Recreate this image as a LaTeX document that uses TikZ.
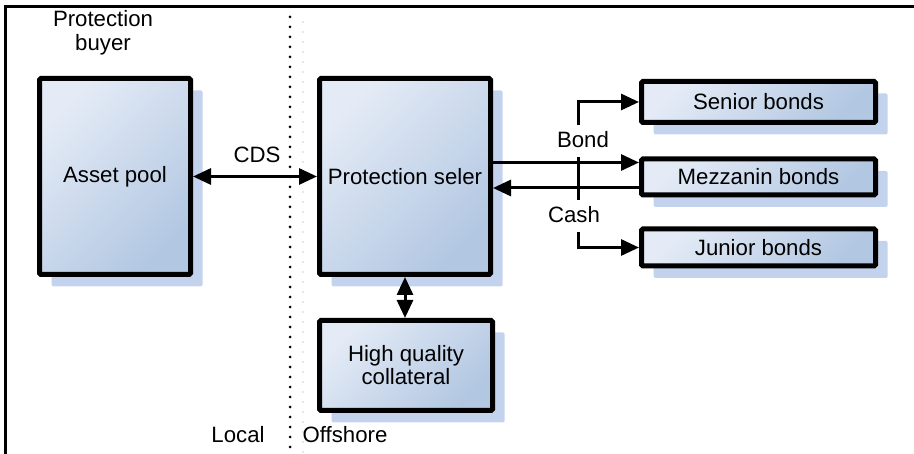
\documentclass[tikz,border=0pt]{standalone}
\usepackage{fontspec}
\setmainfont{Liberation Sans}
\usetikzlibrary{arrows.meta,shadows}
\definecolor{boxlight}{RGB}{228,235,246}
\definecolor{boxdark}{RGB}{178,199,226}
\definecolor{shadowc}{RGB}{196,211,237}
\tikzset{
  box/.style={draw=black, line width=5pt, rounded corners=1.5pt, inner sep=0pt,
    left color=boxlight, right color=boxdark, shading angle=45,
    general shadow={shadow xshift=12pt, shadow yshift=-12pt, fill=shadowc},
    align=center, font=\fontsize{22.2}{23}\selectfont},
  lbl/.style={inner sep=0pt, align=center, font=\fontsize{22.2}{24}\selectfont},
  conn/.style={line width=3pt},
  arr/.style={conn, -{Triangle[length=18pt,width=16pt]}},
  dbl/.style={conn, {Triangle[length=18pt,width=16pt]}-{Triangle[length=18pt,width=16pt]}}
}
\begin{document}
\begin{tikzpicture}[x=1pt,y=-1pt]
\useasboundingbox (0,0) rectangle (914,454);
% frame
\draw[line width=3pt] (5.5,470) -- (5.5,7) -- (930,7);
% divider
\draw[line width=3pt, line cap=round, dash pattern=on 0pt off 10pt] (290,17) -- (290,454);
\draw[line width=1.8pt, line cap=round, dash pattern=on 0pt off 10pt, shadowc] (303,22) -- (303,454);
% boxes
\node[box, minimum width=151pt, minimum height=196pt] (asset) at (115,176.5) {Asset pool};
\node[box, minimum width=171pt, minimum height=196pt] (seller) at (405,176.5) {Protection seler};
\node[box, minimum width=234pt, minimum height=41pt] (senior) at (758.5,102) {Senior bonds};
\node[box, minimum width=234pt, minimum height=36pt] (mezz) at (758.5,177) {Mezzanin bonds};
\node[box, minimum width=234pt, minimum height=37pt] (junior) at (758.5,247.5) {Junior bonds};
\node[box, minimum width=173pt, minimum height=90pt] (coll) at (406,365.5) {High quality\\collateral};
% labels
\node[lbl] (buyer) at (103,33) {Protection\\buyer};
\node[lbl] (cds) at (257,155) {CDS};
\node[lbl] (bond) at (583,140) {Bond};
\node[lbl] (cash) at (574,215) {Cash};
\node[lbl] (local) at (238,435) {Local};
\node[lbl] (off) at (345,435) {Offshore};
% connectors
\draw[dbl] (asset.east) -- (seller.west);
\draw[dbl] (seller.south) -- (seller.south |- coll.north);
\draw[arr] ([yshift=14pt]seller.east) -- ([yshift=14pt]seller.east -| mezz.west);
\draw[arr] ([yshift=-11pt]mezz.west) -- ([yshift=-11pt]mezz.west -| seller.east);
\coordinate (b1) at (578,125);
\coordinate (v1) at (578,157);
\coordinate (v2) at (578,200);
\coordinate (c1) at (578,232);
\draw[arr] (b1) |- (senior.west);
\draw[conn] (v1) -- (v2);
\draw[arr] (c1) |- (junior.west);
\end{tikzpicture}
\end{document}
